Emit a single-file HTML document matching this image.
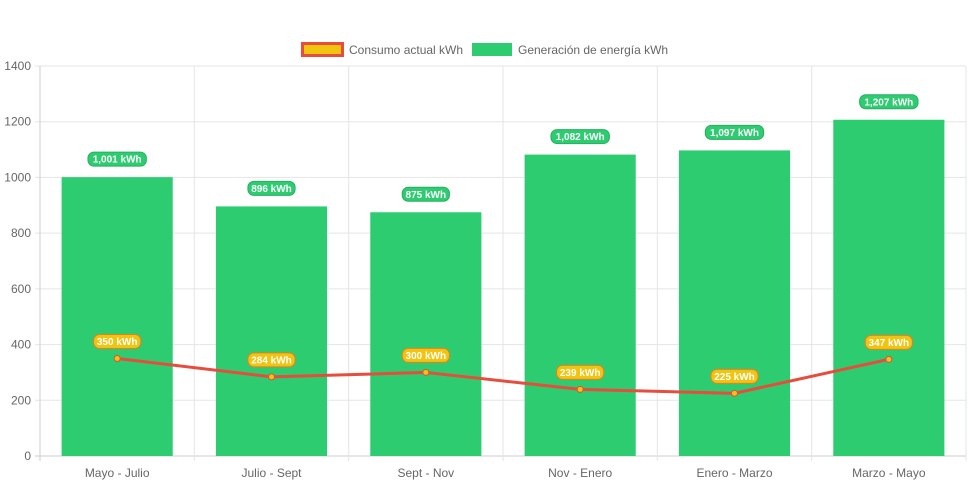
<!DOCTYPE html>
<html><head><meta charset="utf-8"><style>
body{margin:0;background:#fff;font-family:"Liberation Sans",sans-serif}
svg text{font-family:"Liberation Sans",sans-serif}
</style></head><body>
<svg id="c" width="971" height="485" xmlns="http://www.w3.org/2000/svg">
<g id="legend">
<g><rect x="302.5" y="43.5" width="40" height="12" fill="#f1c40f" stroke="#e74c3c" stroke-width="3"/><text x="349" y="54" font-size="12" fill="#666">Consumo actual kWh</text></g>
<g><rect x="472" y="43" width="40" height="13" fill="#2ecc71"/><text x="518" y="54" font-size="12" fill="#666">Generación de energía kWh</text></g>
</g>
<g id="grid"></g><g id="bars"></g><g id="line"></g><g id="labels"></g>
</svg>
<script>
const categories=["Mayo - Julio","Julio - Sept","Sept - Nov","Nov - Enero","Enero - Marzo","Marzo - Mayo"];
const generacion=[1001,896,875,1082,1097,1207];
const consumo=[350,284,300,239,225,347];
const yTicks=[0,200,400,600,800,1000,1200,1400];
const NS="http://www.w3.org/2000/svg";
const L=40,R=966,T=66,B=456,YMAX=1400;
const bw=(R-L)/categories.length;
const y=v=>B-(v/YMAX)*(B-T);
const xc=i=>L+bw*(i+0.5);
function mk(tag,attrs,parent,txt){const e=document.createElementNS(NS,tag);for(const k in attrs)e.setAttribute(k,attrs[k]);if(txt!==undefined)e.textContent=txt;document.getElementById(parent).appendChild(e);return e;}
const fmt=v=>v.toLocaleString('en-US')+" kWh";
yTicks.forEach(t=>{
 const g=mk('line',{x1:L-5,x2:R,y1:y(t),y2:y(t),stroke:t===0?'#ccc':'#e5e5e5','stroke-width':1},'grid');
 
 
 const tx=mk('text',{x:L-9,y:y(t)+4,'text-anchor':'end','font-size':12,fill:'#666'},'grid',String(t));
 
 
});
for(let i=0;i<=categories.length;i++){
 const x=L+bw*i;
 const g=mk('line',{x1:x,x2:x,y1:T,y2:B+5,stroke:i===0?'#ccc':'#e5e5e5','stroke-width':1},'grid');
 
 
}
categories.forEach((c,i)=>{
 const t=mk('text',{x:xc(i),y:477,'text-anchor':'middle','font-size':12,fill:'#666'},'grid',c);
 
 
 const w=bw*0.72;
 const b=mk('rect',{x:xc(i)-w/2,y:y(generacion[i]),width:w,height:B-y(generacion[i]),fill:'#2ecc71'},'bars');
 
 
});
const pts=consumo.map((v,i)=>xc(i)+','+y(v)).join(' ');
const pl=mk('polyline',{points:pts,fill:'none',stroke:'#e74c3c','stroke-width':3,'stroke-linejoin':'round'},'line');


consumo.forEach((v,i)=>{
 const p=mk('circle',{cx:xc(i),cy:y(v),r:3,fill:'#f1c40f',stroke:'#e74c3c','stroke-width':1},'line');
 
 
});
function label(x,cy,txt,fill,stroke,name){
 const w=txt.length*5.6+8;
 const r=mk('rect',{x:x-w/2,y:cy-7,width:w,height:14,rx:6,fill:fill,stroke:stroke,'stroke-width':1},'labels');
 
 
 const t=mk('text',{x:x,y:cy+3.5,'text-anchor':'middle','font-size':10,'font-weight':'bold',fill:'#fff'},'labels',txt);
 
 
}
generacion.forEach((v,i)=>label(xc(i),y(v)-18,fmt(v),'#2ecc71','#27ae60','generacion-value-label'));
consumo.forEach((v,i)=>label(xc(i),y(v)-17,fmt(v),'#f1c40f','#e67e22','consumo-value-label'));
</script>
</body></html>
